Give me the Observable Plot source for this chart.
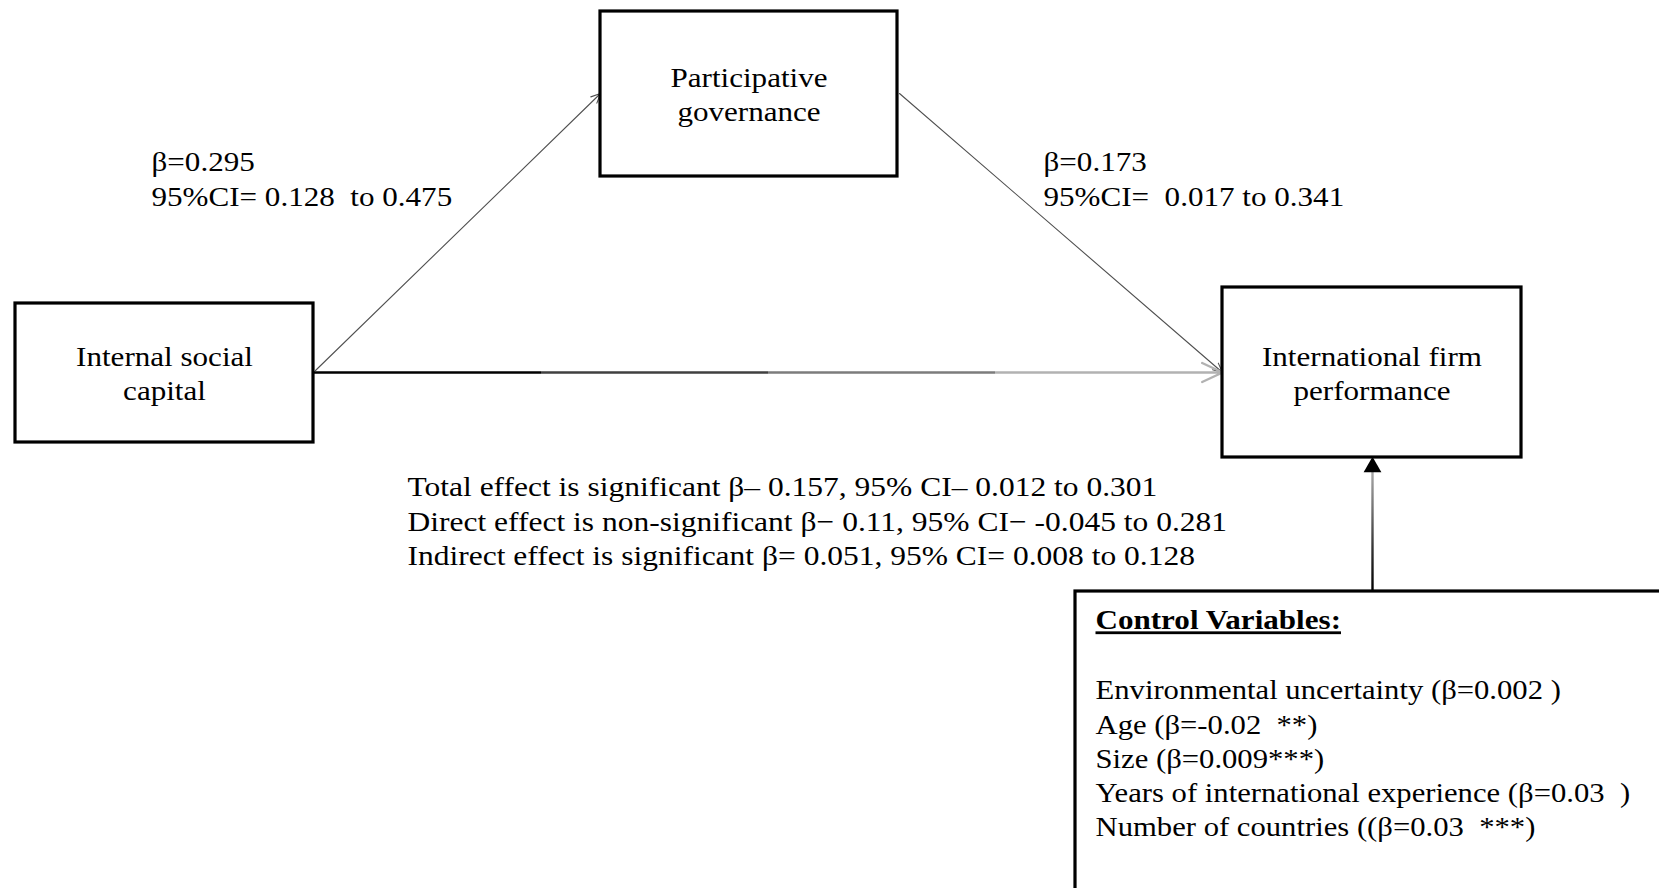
<!DOCTYPE html>
<html><head><meta charset="utf-8">
<script src="https://cdn.jsdelivr.net/npm/d3@7"></script>
<script src="https://cdn.jsdelivr.net/npm/@observablehq/plot@0.6"></script>
<style>
html,body{margin:0;padding:0;background:#fff;overflow:hidden}
svg text{white-space:pre}
</style>
</head><body><div id="chart"></div>
<script>
// ---------- data ----------
const nodeNames  = ["Internal social capital", "Participative governance", "International firm performance", "Control Variables"];
const nodeLabels = ["Internal social\ncapital", "Participative\ngovernance", "International firm\nperformance", ""];

const pathFrom   = ["Internal social capital", "Participative governance"];
const pathTo     = ["Participative governance", "International firm performance"];
const pathBeta   = ["0.295", "0.173"];
const pathCILow  = ["0.128", "0.017"];
const pathCIHigh = ["0.475", "0.341"];

const effectNames = ["Total", "Direct", "Indirect"];
const effectSig   = ["significant", "non-significant", "significant"];
const effectEq    = ["–", "−", "="];
const effectBeta  = ["0.157", "0.11", "0.051"];
const effectCILow = ["0.012", "-0.045", "0.008"];
const effectCIHigh= ["0.301", "0.281", "0.128"];

const controlTitle = "Control Variables:";
const controlNames = ["Environmental uncertainty", "Age", "Size", "Years of international experience", "Number of countries"];
const controlBeta  = ["(β=0.002 )", "(β=-0.02  **)", "(β=0.009***)", "(β=0.03  )", "((β=0.03  ***)"];

// ---------- layout (diagram pixel space) ----------
const W = 1659, H = 888;
const boxX1 = [15, 600, 1222, 1075];
const boxX2 = [313, 897, 1521, 1740];
const boxY1 = [303, 11, 287, 591];
const boxY2 = [442, 176, 457, 960];
const labelY = [354, 75, 354, null];
const lineGap = 1.2;
const textStretch = 1.11, effectStretch = 1.125, controlStretch = 1.095;

const nodes = nodeNames.map((name, i) => ({
  name, label: nodeLabels[i],
  x1: boxX1[i], x2: boxX2[i], y1: boxY1[i], y2: boxY2[i],
  cx: (boxX1[i] + boxX2[i]) / 2, ly: labelY[i]
}));
const byName = Object.fromEntries(nodes.map(d => [d.name, d]));

const pathStartY = [370, 93];
const pathEndY   = [93, 372];
const paths = pathFrom.map((f, i) => ({
  x1: byName[f].x2 + 2, y1: pathStartY[i],
  x2: byName[pathTo[i]].x1, y2: pathEndY[i]
}));
const pathLabelX = [151, 1043];
const pathLabelY = [162, 197];
const pathLabels = [];
pathBeta.forEach((b, i) => {
  pathLabels.push({x: pathLabelX[i], y: pathLabelY[0], text: `β=${b}`});
  pathLabels.push({x: pathLabelX[i], y: pathLabelY[1],
    text: i === 0 ? `95%CI= ${pathCILow[i]}  to ${pathCIHigh[i]}` : `95%CI=  ${pathCILow[i]} to ${pathCIHigh[i]}`});
});

const directLine = [{x1: byName["Internal social capital"].x2, x2: byName["International firm performance"].x1, y: 372}];
const ctrl = byName["Control Variables"], perf = byName["International firm performance"];
const controlLink = [{x: 1372, y1: ctrl.y1, y2: perf.y2 + 12}];
const controlHead = [{x: 1372, y: perf.y2 + 9.5}];

const effectLines = effectNames.map((n, i) => ({
  x: 407, y: 487 + i * 34.5,
  text: `${n} effect is ${effectSig[i]} β${effectEq[i]} ${effectBeta[i]}, 95% CI${effectEq[i]} ${effectCILow[i]} to ${effectCIHigh[i]}`
}));
const controlLines = controlNames.map((n, i) => ({x: 1095, y: 690 + i * 34.2, text: `${n} ${controlBeta[i]}`}));

// ---------- plot ----------
const plot = Plot.plot({
  width: W, height: H, margin: 0,
  x: {domain: [0, W], range: [0, W], axis: null},
  y: {domain: [0, H], range: [0, H], axis: null},
  style: {fontFamily: "'Liberation Serif', 'Times New Roman', serif", fontSize: "28px", background: "#fff", color: "#000", overflow: "hidden"},
  marks: [
    Plot.arrow(paths, {x1: "x1", y1: "y1", x2: "x2", y2: "y2", stroke: "#505050", strokeWidth: 1.1, headLength: 14, headAngle: 50}),
    Plot.arrow(directLine, {x1: "x1", y1: "y", x2: "x2", y2: "y", stroke: "url(#hgrad)", strokeWidth: 2.4, headLength: 14, headAngle: 50}),
    Plot.link(controlLink, {x1: "x", x2: "x", y1: "y1", y2: "y2", stroke: "url(#vgrad)", strokeWidth: 2.4}),
    Plot.dot(controlHead, {x: "x", y: "y", symbol: "triangle", r: 6.6, fill: "black", stroke: "none"}),
    Plot.rect(nodes, {x1: "x1", x2: "x2", y1: "y1", y2: "y2", fill: "white", stroke: "black", strokeWidth: 3.2}),
    Plot.text(nodes.filter(d => d.label), {x: "cx", y: "ly", text: "label", textAnchor: "middle", lineAnchor: "top", lineHeight: lineGap, dy: -12}),
    Plot.text(pathLabels, {x: "x", y: "y", text: "text", textAnchor: "start"}),
    Plot.text(effectLines, {x: "x", y: "y", text: "text", textAnchor: "start"}),
    Plot.text([{x: 1095, y: 620, text: controlTitle}], {x: "x", y: "y", text: "text", textAnchor: "start", fontWeight: "bold"}),
    Plot.text(controlLines, {x: "x", y: "y", text: "text", textAnchor: "start"})
  ]
});

const svg = d3.select(plot);
const defs = svg.insert("defs", ":first-child");
const hg = defs.append("linearGradient").attr("id", "hgrad").attr("gradientUnits", "userSpaceOnUse")
  .attr("x1", directLine[0].x1).attr("y1", 0).attr("x2", directLine[0].x2).attr("y2", 0);
[[0, "#000"], [0.25, "#000"], [0.25, "#404040"], [0.5, "#404040"], [0.5, "#7c7c7c"], [0.75, "#7c7c7c"], [0.75, "#b2b2b2"], [1, "#b2b2b2"]]
  .forEach(([o, c]) => hg.append("stop").attr("offset", o).attr("stop-color", c));
const vg = defs.append("linearGradient").attr("id", "vgrad").attr("gradientUnits", "userSpaceOnUse")
  .attr("x1", 0).attr("y1", controlLink[0].y1).attr("x2", 0).attr("y2", controlLink[0].y2);
[[0, "#000"], [0.35, "#333"], [0.7, "#777"], [1, "#aaa"]]
  .forEach(([o, c]) => vg.append("stop").attr("offset", o).attr("stop-color", c));
svg.selectAll("text").filter(function () { return this.textContent === controlTitle; })
  .style("text-decoration", "underline");

// horizontal stretch of all text around its own anchor point (the original figure's text is widened)
const effectSet = new Set(effectLines.map(d => d.text));
const controlSet = new Set(controlLines.map(d => d.text));
svg.selectAll("text").each(function () {
  const t = this.getAttribute("transform") || "";
  const m = /translate\(\s*([-\d.e]+)[ ,]+([-\d.e]+)\s*\)/.exec(t);
  const ax = m ? +m[1] : +(this.getAttribute("x") || 0);
  const s = effectSet.has(this.textContent) ? effectStretch : controlSet.has(this.textContent) ? controlStretch : textStretch;
  this.setAttribute("transform", `translate(${ax},0) scale(${s},1) translate(${-ax},0) ${t}`);
});

document.getElementById("chart").appendChild(plot);
</script></body></html>
